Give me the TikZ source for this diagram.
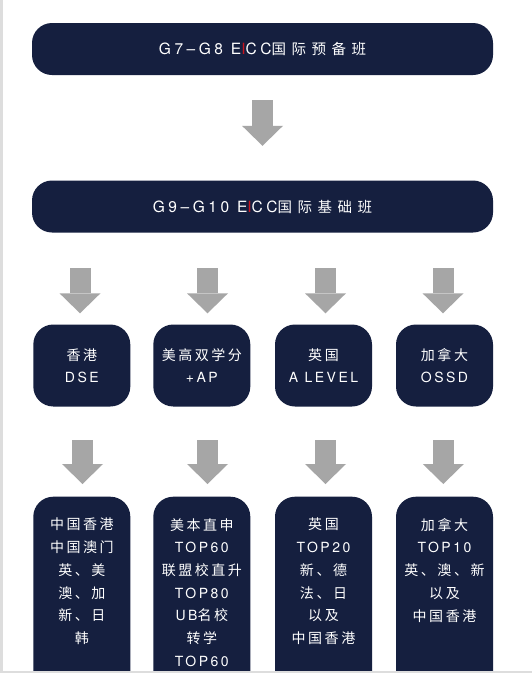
\documentclass[tikz,border=0pt]{standalone}
\usepackage{fontspec}
\setmainfont{TeX Gyre Heros}[LetterSpace=18]
\newfontfamily\latw{TeX Gyre Heros}[LetterSpace=23]
\newfontfamily\zh{Noto Sans CJK SC}[LetterSpace=18]
\newfontfamily\zhw{Noto Sans CJK SC}[LetterSpace=38]
\usetikzlibrary{arrows.meta,calc}
\definecolor{navy}{RGB}{21,31,63}
\definecolor{agray}{RGB}{166,166,166}
\definecolor{eiccred}{RGB}{200,20,30}
\definecolor{edgegray}{RGB}{221,221,221}
\newcommand{\toplat}{\fontsize{15.5}{17}\latw}
\newcommand{\topzh}{\fontsize{14.5}{17}\zhw}
\begin{document}
\begin{tikzpicture}[x=1pt,y=-1pt,
  box/.style={fill=navy, rounded corners=20pt, inner sep=0pt, text=white, align=center},
  widebox/.style={box, minimum width=461pt, minimum height=52pt, font=\fontsize{14.5}{17}\selectfont},
  midbox/.style={box, minimum width=97pt, minimum height=82pt, font=\fontsize{14}{22}\selectfont},
  tallbox/.style={box, minimum width=97pt, minimum height=220pt, anchor=north},
  txt/.style={text=white, align=center, inner sep=0pt, font=\fontsize{14}{22.7}\selectfont, anchor=north},
  bigarrow/.style={draw=agray, line width=21pt, -{Triangle[length=20pt,width=41pt,line width=0pt,fill=agray]}},
]
\useasboundingbox (0,0) rectangle (532,673);
\fill[white] (0,0) rectangle (532,673);
\fill[edgegray] (0,0) rectangle (2.5,673);

\node[widebox] (g78) at (262.5,49) {\toplat G7–G8 E{\color{eiccred}I}CC\topzh 国际预备班};
\node[widebox] (g910) at (262.5,206.5) {\toplat G9–G10 E{\color{eiccred}I}CC\topzh 国际基础班};

\node[midbox] (dse) at (81.8,365.5) {{\zh 香港}\\DSE};
\node[midbox] (ap) at (201.8,365.5) {{\zh 美高双学分}\\+AP};
\node[midbox] (alv) at (323.5,365.5) {{\zh 英国}\\A LEVEL};
\node[midbox] (ossd) at (444.5,365.5) {{\zh 加拿大}\\OSSD};

\begin{scope}
\clip (0,0) rectangle (532,671);
\node[tallbox] (b1) at (81.8,496.5) {};
\node[tallbox] (b2) at (201.8,496.5) {};
\node[tallbox] (b3) at (323.5,496.5) {};
\node[tallbox] (b4) at (444.5,496.5) {};
\end{scope}
\fill[edgegray] (0,671) rectangle (532,673);

\node[txt] (t1) at ($(b1.north)+(0,21.5)$) {{\zh 中国香港}\\{\zh 中国澳门}\\{\zh 英、美}\\{\zh 澳、加}\\{\zh 新、日}\\{\zh 韩}};
\node[txt] (t2) at ($(b2.north)+(0,21.5)$) {{\zh 美本直申}\\TOP60\\{\zh 联盟校直升}\\TOP80\\UB{\zh 名校}\\{\zh 转学}\\TOP60};
\node[txt] (t3) at ($(b3.north)+(0,21.5)$) {{\zh 英国}\\TOP20\\{\zh 新、德}\\{\zh 法、日}\\{\zh 以及}\\{\zh 中国香港}};
\node[txt] (t4) at ($(b4.north)+(0,21.5)$) {{\zh 加拿大}\\TOP10\\{\zh 英、澳、新}\\{\zh 以及}\\{\zh 中国香港}};

\draw[bigarrow] ($(g78.south)+(0,25)$) -- ($(g910.north)+(0,-34.5)$);

\draw[bigarrow] ($(g910.south -| dse.north)+(-1.8,35.5)$) -- ($(dse.north)+(-1.8,-11)$);
\draw[bigarrow] ($(g910.south -| ap.north)+(5.7,35.5)$) -- ($(ap.north)+(5.7,-11)$);
\draw[bigarrow] ($(g910.south -| alv.north)+(2,35.5)$) -- ($(alv.north)+(2,-11)$);
\draw[bigarrow] ($(g910.south -| ossd.north)+(-1.5,35.5)$) -- ($(ossd.north)+(-1.5,-11)$);

\draw[bigarrow] ($(dse.south)+(0.7,33.5)$) -- ($(b1.north)+(0.7,-12.5)$);
\draw[bigarrow] ($(ap.south)+(5.7,33.5)$) -- ($(b2.north)+(5.7,-12.5)$);
\draw[bigarrow] ($(alv.south)+(2,33.5)$) -- ($(b3.north)+(2,-12.5)$);
\draw[bigarrow] ($(ossd.south)+(-1.2,33.5)$) -- ($(b4.north)+(-1.2,-12.5)$);
\end{tikzpicture}
\end{document}
